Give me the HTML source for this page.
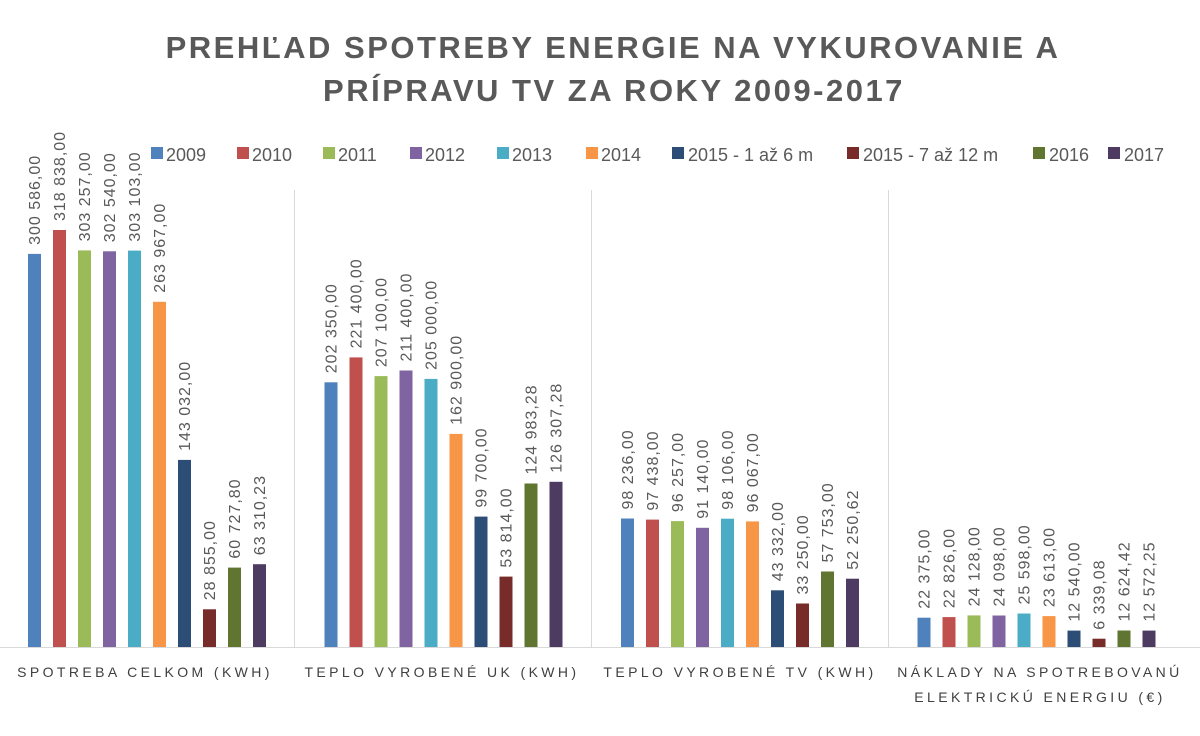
<!DOCTYPE html>
<html><head><meta charset="utf-8"><style>
body{margin:0;background:#fff;}
svg{display:block;font-family:"Liberation Sans",sans-serif;}
.l{font-size:16px;fill:#595959;letter-spacing:1px;}
</style></head><body>
<svg width="1200" height="736" viewBox="0 0 1200 736" xmlns="http://www.w3.org/2000/svg">
<rect width="1200" height="736" fill="#fff"/>
<g font-weight="bold" font-size="31" fill="#595959" text-anchor="middle" letter-spacing="2.5">
<text x="613" y="58">PREHĽAD SPOTREBY ENERGIE NA VYKUROVANIE A</text>
<text x="614" y="101">PRÍPRAVU TV ZA ROKY 2009-2017</text>
</g>
<g font-size="18" fill="#595959">
<rect x="151" y="147" width="12" height="12" fill="#4F81BD"/><text x="166" y="161">2009</text>
<rect x="237" y="147" width="12" height="12" fill="#C0504D"/><text x="252" y="161">2010</text>
<rect x="323" y="147" width="12" height="12" fill="#9BBB59"/><text x="338" y="161">2011</text>
<rect x="410" y="147" width="12" height="12" fill="#8064A2"/><text x="425" y="161">2012</text>
<rect x="497" y="147" width="12" height="12" fill="#4BACC6"/><text x="512" y="161">2013</text>
<rect x="586" y="147" width="12" height="12" fill="#F79646"/><text x="601" y="161">2014</text>
<rect x="672" y="147" width="12" height="12" fill="#2C4D75"/><text x="688" y="161">2015 - 1 až 6 m</text>
<rect x="847" y="147" width="12" height="12" fill="#772C2A"/><text x="863" y="161">2015 - 7 až 12 m</text>
<rect x="1033" y="147" width="12" height="12" fill="#5F7530"/><text x="1049" y="161">2016</text>
<rect x="1108" y="147" width="12" height="12" fill="#4D3B62"/><text x="1124" y="161">2017</text>
</g>
<g stroke="#d9d9d9" stroke-width="1">
<line x1="294.5" y1="190" x2="294.5" y2="648"/>
<line x1="591.5" y1="190" x2="591.5" y2="648"/>
<line x1="888.5" y1="190" x2="888.5" y2="648"/>
<line x1="0" y1="647.5" x2="1200" y2="647.5"/>
</g>
<!-- Group 1 -->
<rect x="28" y="253.9" width="13" height="393.1" fill="#4F81BD"/><text class="l" transform="translate(40,244.9) rotate(-90)">300 586,00</text>
<rect x="53" y="230" width="13" height="417" fill="#C0504D"/><text class="l" transform="translate(65,221) rotate(-90)">318 838,00</text>
<rect x="78" y="250.4" width="13" height="396.6" fill="#9BBB59"/><text class="l" transform="translate(90,241.4) rotate(-90)">303 257,00</text>
<rect x="103" y="251.3" width="13" height="395.7" fill="#8064A2"/><text class="l" transform="translate(115,242.3) rotate(-90)">302 540,00</text>
<rect x="128" y="250.6" width="13" height="396.4" fill="#4BACC6"/><text class="l" transform="translate(140,241.6) rotate(-90)">303 103,00</text>
<rect x="153" y="301.8" width="13" height="345.2" fill="#F79646"/><text class="l" transform="translate(165,292.8) rotate(-90)">263 967,00</text>
<rect x="178" y="459.9" width="13" height="187.1" fill="#2C4D75"/><text class="l" transform="translate(190,450.9) rotate(-90)">143 032,00</text>
<rect x="203" y="609.3" width="13" height="37.7" fill="#772C2A"/><text class="l" transform="translate(215,600.3) rotate(-90)">28 855,00</text>
<rect x="228" y="567.6" width="13" height="79.4" fill="#5F7530"/><text class="l" transform="translate(240,558.6) rotate(-90)">60 727,80</text>
<rect x="253" y="564.2" width="13" height="82.8" fill="#4D3B62"/><text class="l" transform="translate(265,555.2) rotate(-90)">63 310,23</text>
<!-- Group 2 -->
<rect x="324.5" y="382.3" width="13" height="264.7" fill="#4F81BD"/><text class="l" transform="translate(336.5,373.3) rotate(-90)">202 350,00</text>
<rect x="349.5" y="357.4" width="13" height="289.6" fill="#C0504D"/><text class="l" transform="translate(361.5,348.4) rotate(-90)">221 400,00</text>
<rect x="374.5" y="376.1" width="13" height="270.9" fill="#9BBB59"/><text class="l" transform="translate(386.5,367.1) rotate(-90)">207 100,00</text>
<rect x="399.5" y="370.5" width="13" height="276.5" fill="#8064A2"/><text class="l" transform="translate(411.5,361.5) rotate(-90)">211 400,00</text>
<rect x="424.5" y="378.9" width="13" height="268.1" fill="#4BACC6"/><text class="l" transform="translate(436.5,369.9) rotate(-90)">205 000,00</text>
<rect x="449.5" y="433.9" width="13" height="213.1" fill="#F79646"/><text class="l" transform="translate(461.5,424.9) rotate(-90)">162 900,00</text>
<rect x="474.5" y="516.6" width="13" height="130.4" fill="#2C4D75"/><text class="l" transform="translate(486.5,507.6) rotate(-90)">99 700,00</text>
<rect x="499.5" y="576.6" width="13" height="70.4" fill="#772C2A"/><text class="l" transform="translate(511.5,567.6) rotate(-90)">53 814,00</text>
<rect x="524.5" y="483.5" width="13" height="163.5" fill="#5F7530"/><text class="l" transform="translate(536.5,474.5) rotate(-90)">124 983,28</text>
<rect x="549.5" y="481.8" width="13" height="165.2" fill="#4D3B62"/><text class="l" transform="translate(561.5,472.8) rotate(-90)">126 307,28</text>
<!-- Group 3 -->
<rect x="621" y="518.5" width="13" height="128.5" fill="#4F81BD"/><text class="l" transform="translate(633,509.5) rotate(-90)">98 236,00</text>
<rect x="646" y="519.6" width="13" height="127.4" fill="#C0504D"/><text class="l" transform="translate(658,510.6) rotate(-90)">97 438,00</text>
<rect x="671" y="521.1" width="13" height="125.9" fill="#9BBB59"/><text class="l" transform="translate(683,512.1) rotate(-90)">96 257,00</text>
<rect x="696" y="527.8" width="13" height="119.2" fill="#8064A2"/><text class="l" transform="translate(708,518.8) rotate(-90)">91 140,00</text>
<rect x="721" y="518.7" width="13" height="128.3" fill="#4BACC6"/><text class="l" transform="translate(733,509.7) rotate(-90)">98 106,00</text>
<rect x="746" y="521.4" width="13" height="125.6" fill="#F79646"/><text class="l" transform="translate(758,512.4) rotate(-90)">96 067,00</text>
<rect x="771" y="590.3" width="13" height="56.7" fill="#2C4D75"/><text class="l" transform="translate(783,581.3) rotate(-90)">43 332,00</text>
<rect x="796" y="603.5" width="13" height="43.5" fill="#772C2A"/><text class="l" transform="translate(808,594.5) rotate(-90)">33 250,00</text>
<rect x="821" y="571.5" width="13" height="75.5" fill="#5F7530"/><text class="l" transform="translate(833,562.5) rotate(-90)">57 753,00</text>
<rect x="846" y="578.7" width="13" height="68.3" fill="#4D3B62"/><text class="l" transform="translate(858,569.7) rotate(-90)">52 250,62</text>
<!-- Group 4 -->
<rect x="917.5" y="617.7" width="13" height="29.3" fill="#4F81BD"/><text class="l" transform="translate(929.5,608.7) rotate(-90)">22 375,00</text>
<rect x="942.5" y="617.1" width="13" height="29.9" fill="#C0504D"/><text class="l" transform="translate(954.5,608.1) rotate(-90)">22 826,00</text>
<rect x="967.5" y="615.4" width="13" height="31.6" fill="#9BBB59"/><text class="l" transform="translate(979.5,606.4) rotate(-90)">24 128,00</text>
<rect x="992.5" y="615.5" width="13" height="31.5" fill="#8064A2"/><text class="l" transform="translate(1004.5,606.5) rotate(-90)">24 098,00</text>
<rect x="1017.5" y="613.5" width="13" height="33.5" fill="#4BACC6"/><text class="l" transform="translate(1029.5,604.5) rotate(-90)">25 598,00</text>
<rect x="1042.5" y="616.1" width="13" height="30.9" fill="#F79646"/><text class="l" transform="translate(1054.5,607.1) rotate(-90)">23 613,00</text>
<rect x="1067.5" y="630.6" width="13" height="16.4" fill="#2C4D75"/><text class="l" transform="translate(1079.5,621.6) rotate(-90)">12 540,00</text>
<rect x="1092.5" y="638.7" width="13" height="8.3" fill="#772C2A"/><text class="l" transform="translate(1104.5,629.7) rotate(-90)">6 339,08</text>
<rect x="1117.5" y="630.5" width="13" height="16.5" fill="#5F7530"/><text class="l" transform="translate(1129.5,621.5) rotate(-90)">12 624,42</text>
<rect x="1142.5" y="630.6" width="13" height="16.4" fill="#4D3B62"/><text class="l" transform="translate(1154.5,621.6) rotate(-90)">12 572,25</text>
<g font-size="14" fill="#404040" letter-spacing="3.4" text-anchor="middle">
<text x="145" y="677">SPOTREBA CELKOM (KWH)</text>
<text x="442" y="677">TEPLO VYROBENÉ UK (KWH)</text>
<text x="740" y="677">TEPLO VYROBENÉ TV (KWH)</text>
<text x="1040" y="677">NÁKLADY NA SPOTREBOVANÚ</text>
<text x="1040" y="702">ELEKTRICKÚ ENERGIU (€)</text>
</g>
</svg>
</body></html>
